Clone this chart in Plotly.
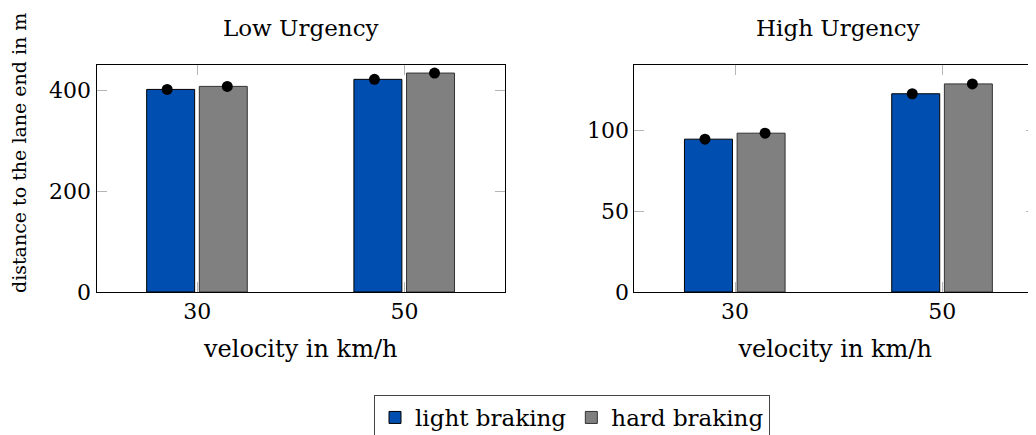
import plotly.graph_objects as go

# data
velocity = [30, 50]
low_light = [402.5, 422.5]
low_hard = [408.5, 435.0]
low_light_err = [2.0, 2.0]
low_hard_err = [2.0, 2.0]
high_light = [94.6, 122.7]
high_hard = [98.3, 128.8]
high_light_err = [1.5, 1.5]
high_hard_err = [1.2, 1.8]

BLUE = "#004fb0"
GREY = "#808080"
FONT = "DejaVu Serif"
FS = 23

# page body has an 8px margin, so the figure is laid out 8px up/left
W, H = 1028, 427
bar_w = 4.63
off_light = -4.88
off_hard = 0.2
dot_light = -2.9
dot_hard = 2.9

fig = go.Figure()


def add_panel(light, hard, light_err, hard_err, xa, ya, show_leg):
    fig.add_trace(go.Bar(
        x=velocity, y=light, width=bar_w, offset=off_light,
        marker=dict(color=BLUE, line=dict(color="black", width=1)),
        name="light braking", legendgroup="l", showlegend=show_leg,
        xaxis=xa, yaxis=ya))
    fig.add_trace(go.Bar(
        x=velocity, y=hard, width=bar_w, offset=off_hard,
        marker=dict(color=GREY, line=dict(color="#333333", width=1)),
        name="hard braking", legendgroup="h", showlegend=show_leg,
        xaxis=xa, yaxis=ya))
    fig.add_trace(go.Scatter(
        x=[v + dot_light for v in velocity], y=light, mode="markers",
        marker=dict(color="black", size=11),
        error_y=dict(type="data", array=light_err, color="black", thickness=1.2, width=0),
        showlegend=False, xaxis=xa, yaxis=ya))
    fig.add_trace(go.Scatter(
        x=[v + dot_hard for v in velocity], y=hard, mode="markers",
        marker=dict(color="black", size=11),
        error_y=dict(type="data", array=hard_err, color="black", thickness=1.2, width=0),
        showlegend=False, xaxis=xa, yaxis=ya))


add_panel(low_light, low_hard, low_light_err, low_hard_err, "x", "y", True)
add_panel(high_light, high_hard, high_light_err, high_hard_err, "x2", "y2", False)

y_dom = [(H - 284) / H, (H - 57) / H]
axis_common = dict(
    showline=True, linecolor="black", linewidth=1, mirror="allticks",
    ticks="inside", ticklen=10, tickcolor="#b5b5b5", tickwidth=1,
    showgrid=False, zeroline=False, automargin=False,
    tickfont=dict(family=FONT, size=22, color="black"),
)
xtitle = dict(text="velocity in km/h", standoff=16, font=dict(family=FONT, size=24))


def label(text, x, y, size=FS, angle=0):
    return dict(text=text, x=x / W, y=(H - y) / H, xref="paper", yref="paper",
                xanchor="center", yanchor="middle", textangle=angle,
                showarrow=False, font=dict(family=FONT, size=size))


fig.update_layout(
    width=W, height=H,
    margin=dict(l=0, r=0, t=0, b=0, autoexpand=False),
    paper_bgcolor="white", plot_bgcolor="white",
    barmode="overlay",
    font=dict(family=FONT, size=FS, color="black"),
    xaxis=dict(domain=[88.5 / W, 497 / W], range=[20.28, 59.7],
               tickvals=velocity, anchor="y", title=xtitle, **axis_common),
    yaxis=dict(domain=y_dom, range=[0, 451], tickvals=[0, 200, 400], anchor="x",
               **axis_common),
    xaxis2=dict(domain=[626.3 / W, 1.0], range=[20.28, 59.04],
                tickvals=velocity, anchor="y2", title=xtitle, **axis_common),
    yaxis2=dict(domain=y_dom, range=[0, 140.5], tickvals=[0, 50, 100], anchor="x2",
                **axis_common),
    legend=dict(orientation="h", x=564 / W, xanchor="center", y=(H - 387) / H,
                yanchor="top", bordercolor="#444444", borderwidth=1,
                font=dict(family=FONT, size=FS), itemwidth=30,
                tracegroupgap=0, traceorder="normal"),
    annotations=[
        label("Low Urgency", 292.7, 20),
        label("High Urgency", 830, 20),
        label("distance to the lane end in m", 11, 145, size=19, angle=-90),
    ],
)

fig.write_html("out.html")
